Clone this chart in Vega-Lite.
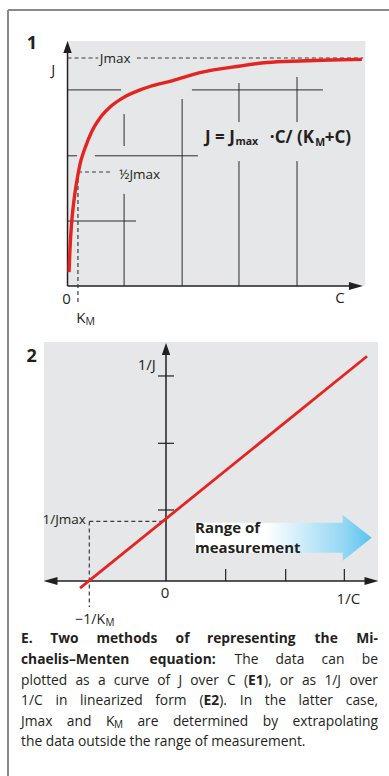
{
  "$schema": "https://vega.github.io/schema/vega-lite/v6.json",
  "padding": {"left": 7, "top": 9, "right": 0, "bottom": 0},
  "bounds": "flush",
  "spacing": 0,
  "background": "white",
  "config": {"view": {"stroke": null}, "font": "Open Sans"},
  "datasets": {
    "bgA": [{"C": 0, "J": 0, "C2": 100, "J2": 107.5}],
    "frameA": [{"C": -20, "J": -19.3, "C2": -20, "J2": 121.05}, {"C": -20, "J": 121.05, "C2": 135, "J2": 121.05}],
    "gridA": [
      {"C": 0, "J": 86.0, "C2": 18.0, "J2": 86.0},
      {"C": 41.8, "J": 86.0, "C2": 85.8, "J2": 86.0},
      {"C": 0, "J": 57.1, "C2": 3.2, "J2": 57.1},
      {"C": 9.2, "J": 57.1, "C2": 43.8, "J2": 57.1},
      {"C": 0, "J": 28.5, "C2": 23.0, "J2": 28.5},
      {"C": 19.0, "J": 61.4, "C2": 19.0, "J2": 75.4},
      {"C": 19.0, "J": 0, "C2": 19.0, "J2": 40.4},
      {"C": 38.5, "J": 0, "C2": 38.5, "J2": 82.0},
      {"C": 57.6, "J": 71.9, "C2": 57.6, "J2": 89.0},
      {"C": 57.6, "J": 0, "C2": 57.6, "J2": 54.8},
      {"C": 77.1, "J": 71.9, "C2": 77.1, "J2": 91.7},
      {"C": 77.1, "J": 0, "C2": 77.1, "J2": 54.8}
    ],
    "axesA": [{"C": 0, "J": 0, "C2": 0, "J2": 103}, {"C": 0, "J": 0, "C2": 96, "J2": 0}],
    "arrowUpA": [{"C": 0, "J": 104.8}],
    "arrowRightA": [{"C": 96.9, "J": 0}],
    "dashA": [
      {"C": 0, "J": 100, "C2": 10.3, "J2": 100},
      {"C": 23.3, "J": 100, "C2": 99.3, "J2": 100},
      {"C": 3.5, "J": 50, "C2": 14.3, "J2": 50},
      {"C": 3.5, "J": 50, "C2": 3.5, "J2": -8.3}
    ],
    "curveA": [
      {"C": 0.5, "J": 6.1}, {"C": 0.84, "J": 16.7}, {"C": 1.34, "J": 27.2}, {"C": 2.18, "J": 37.7},
      {"C": 3.36, "J": 47.8}, {"C": 4.2, "J": 53.5}, {"C": 5.88, "J": 60.5}, {"C": 8.23, "J": 68.0},
      {"C": 10.9, "J": 73.7}, {"C": 14.3, "J": 78.5}, {"C": 18.6, "J": 82.5}, {"C": 24.4, "J": 86.0},
      {"C": 27.7, "J": 87.5}, {"C": 35.4, "J": 90.1}, {"C": 44.5, "J": 93.6}, {"C": 58.0, "J": 96.5},
      {"C": 67.0, "J": 98.0}, {"C": 78.1, "J": 98.7}, {"C": 88.2, "J": 99.1}, {"C": 98.9, "J": 99.4}
    ],
    "labelsA": [
      {"C": -4.8, "J": 94.7, "label": "J"},
      {"C": -0.3, "J": -5.8, "label": "0"},
      {"C": 91.5, "J": -5.3, "label": "C"},
      {"C": 4.5, "J": -14.0, "label": "K"}
    ],
    "labelsSmallA": [
      {"C": 16.0, "J": 99.6, "label": "Jmax"},
      {"C": 24.2, "J": 48.7, "label": "½Jmax"}
    ],
    "subA": [{"C": 7.6, "J": -15.8, "label": "M"}],
    "numA": [{"C": -12.0, "J": 106.1, "label": "1"}],
    "eqLeftA": [
      {"C": 46.2, "J": 64.9, "label": "J = J"},
      {"C": 86.4, "J": 64.9, "label": "+C)"}
    ],
    "eqRightA": [
      {"C": 82.8, "J": 64.9, "label": "·C/ (K"}
    ],
    "eqSubA": [
      {"C": 56.4, "J": 63.2, "label": "max"},
      {"C": 83.2, "J": 62.7, "label": "M"}
    ],
    "bgB": [{"u": -2.057, "v": 0, "u2": 3.574, "v2": 3.567}],
    "frameB": [{"u": -2.664, "v": -0.731, "u2": -2.664, "v2": 3.746}],
    "axesB": [{"u": 0, "v": 0, "u2": 0, "v2": 3.4}, {"u": -1.9, "v": 0, "u2": 3.4, "v2": 0}],
    "ticksB": [
      {"u": -0.135, "v": 1.06, "u2": 0.135, "v2": 1.06},
      {"u": -0.135, "v": 2.055, "u2": 0.135, "v2": 2.055},
      {"u": -0.135, "v": 3.06, "u2": 0.135, "v2": 3.06},
      {"u": 1.006, "v": 0, "u2": 1.006, "v2": 0.18},
      {"u": 2.018, "v": 0, "u2": 2.018, "v2": 0.18},
      {"u": 3.007, "v": 0, "u2": 3.007, "v2": 0.18}
    ],
    "arrowUpB": [{"u": 0, "v": 3.463}],
    "arrowRightB": [{"u": 3.465, "v": 0}],
    "arrowLeftB": [{"u": -1.947, "v": 0}],
    "dashB": [
      {"u": -1.293, "v": 0.89, "u2": 0, "v2": 0.89},
      {"u": -1.293, "v": 0.89, "u2": -1.293, "v2": -0.388}
    ],
    "lineB": [{"u": -1.45, "v": -0.107}, {"u": 3.39, "v": 3.354}],
    "rangeB": [
      {"u": 0.489, "v": 0.422, "v2": 0.870},
      {"u": 2.979, "v": 0.422, "v2": 0.870},
      {"u": 2.98, "v": 0.303, "v2": 0.985},
      {"u": 3.468, "v": 0.646, "v2": 0.646}
    ],
    "labelsB": [
      {"u": -0.325, "v": 3.224, "label": "1/J"},
      {"u": -0.017, "v": -0.175, "label": "0"},
      {"u": 3.074, "v": -0.273, "label": "1/C"}
    ],
    "labelsRB": [
      {"u": -1.029, "v": -0.585, "label": "−1/K"}
    ],
    "labelsSmallRB": [
      {"u": -1.35, "v": 0.91, "label": "1/Jmax"}
    ],
    "subB": [{"u": -1.02, "v": -0.62, "label": "M"}],
    "numB": [{"u": -2.264, "v": 3.348, "label": "2"}],
    "rangeText": [
      {"u": 0.489, "v": 0.787, "label": "Range of"},
      {"u": 0.489, "v": 0.5, "label": "measurement"}
    ],
    "frameC": [{"pos": 0, "line": 0.5366, "pos2": 0, "line2": 7.6585}],
    "capBoldL": [
      {"pos": 13, "line": 1, "label": "E."},
      {"pos": 42.3, "line": 1, "label": "Two"},
      {"pos": 88.4, "line": 1, "label": "methods"},
      {"pos": 167.6, "line": 1, "label": "of"},
      {"pos": 198.9, "line": 1, "label": "representing"},
      {"pos": 306.6, "line": 1, "label": "the"},
      {"pos": 13, "line": 2, "label": "chaelis–Menten"},
      {"pos": 141.6, "line": 2, "label": "equation:"},
      {"pos": 240.1, "line": 3, "label": "E1"},
      {"pos": 195.5, "line": 4, "label": "E2"}
    ],
    "capBoldR": [
      {"pos": 370, "line": 1, "label": "Mi-"}
    ],
    "capLeft": [
      {"pos": 226.6, "line": 2, "label": "The"},
      {"pos": 267.6, "line": 2, "label": "data"},
      {"pos": 313.6, "line": 2, "label": "can"},
      {"pos": 13, "line": 3, "label": "plotted"},
      {"pos": 67.4, "line": 3, "label": "as"},
      {"pos": 89.9, "line": 3, "label": "a"},
      {"pos": 105.8, "line": 3, "label": "curve"},
      {"pos": 149.3, "line": 3, "label": "of"},
      {"pos": 170.5, "line": 3, "label": "J"},
      {"pos": 182.3, "line": 3, "label": "over"},
      {"pos": 219.1, "line": 3, "label": "C"},
      {"pos": 236.0, "line": 3, "label": "("},
      {"pos": 255.9, "line": 3, "label": "),"},
      {"pos": 271.7, "line": 3, "label": "or"},
      {"pos": 293.9, "line": 3, "label": "as"},
      {"pos": 316.4, "line": 3, "label": "1/J"},
      {"pos": 13, "line": 4, "label": "1/C"},
      {"pos": 47.4, "line": 4, "label": "in"},
      {"pos": 72.1, "line": 4, "label": "linearized"},
      {"pos": 147.2, "line": 4, "label": "form"},
      {"pos": 191.4, "line": 4, "label": "("},
      {"pos": 211.3, "line": 4, "label": ")."},
      {"pos": 231.8, "line": 4, "label": "In"},
      {"pos": 256.8, "line": 4, "label": "the"},
      {"pos": 290.6, "line": 4, "label": "latter"},
      {"pos": 13, "line": 5, "label": "Jmax"},
      {"pos": 58.8, "line": 5, "label": "and"},
      {"pos": 97.9, "line": 5, "label": "K"},
      {"pos": 129.4, "line": 5, "label": "are"},
      {"pos": 164.9, "line": 5, "label": "determined"},
      {"pos": 254.8, "line": 5, "label": "by"},
      {"pos": 13, "line": 6, "label": "the data outside the range of measurement."}
    ],
    "capRight": [
      {"pos": 370, "line": 2, "label": "be"},
      {"pos": 370, "line": 3, "label": "over"},
      {"pos": 370, "line": 4, "label": "case,"},
      {"pos": 370, "line": 5, "label": "extrapolating"}
    ],
    "capSub": [{"pos": 106.0, "line": 5.15, "label": "M"}]
  },
  "vconcat": [
    {
      "width": 381,
      "height": 320,
      "layer": [
        {
          "data": {"name": "bgA"},
          "mark": {"type": "rect", "color": "#e6e7e8"},
          "encoding": {
            "x": {"field": "C", "type": "quantitative", "scale": {"domain": [-20, 108], "nice": false, "zero": false}, "axis": null},
            "x2": {"field": "C2"},
            "y": {"field": "J", "type": "quantitative", "scale": {"domain": [-19.3, 121.05], "nice": false, "zero": false}, "axis": null},
            "y2": {"field": "J2"}
          }
        },
        {
          "data": {"name": "frameA"},
          "mark": {"type": "rule", "color": "#8a8a8a", "strokeWidth": 2},
          "encoding": {
            "x": {"field": "C", "type": "quantitative", "axis": null},
            "x2": {"field": "C2"},
            "y": {"field": "J", "type": "quantitative", "axis": null},
            "y2": {"field": "J2"}
          }
        },
        {
          "data": {"name": "gridA"},
          "mark": {"type": "rule", "color": "#2b2b2b", "strokeWidth": 1},
          "encoding": {
            "x": {"field": "C", "type": "quantitative", "axis": null},
            "x2": {"field": "C2"},
            "y": {"field": "J", "type": "quantitative", "axis": null},
            "y2": {"field": "J2"}
          }
        },
        {
          "data": {"name": "axesA"},
          "mark": {"type": "rule", "color": "#231f20", "strokeWidth": 1.5},
          "encoding": {
            "x": {"field": "C", "type": "quantitative", "axis": null},
            "x2": {"field": "C2"},
            "y": {"field": "J", "type": "quantitative", "axis": null},
            "y2": {"field": "J2"}
          }
        },
        {
          "data": {"name": "arrowUpA"},
          "mark": {"type": "point", "shape": "M0,-1L0.7,1L-0.7,1Z", "filled": true, "size": 144, "color": "#231f20", "opacity": 1},
          "encoding": {
            "x": {"field": "C", "type": "quantitative", "axis": null},
            "y": {"field": "J", "type": "quantitative", "axis": null}
          }
        },
        {
          "data": {"name": "arrowRightA"},
          "mark": {"type": "point", "shape": "M1,0L-1,-0.58L-1,0.58Z", "filled": true, "size": 196, "color": "#231f20", "opacity": 1},
          "encoding": {
            "x": {"field": "C", "type": "quantitative", "axis": null},
            "y": {"field": "J", "type": "quantitative", "axis": null}
          }
        },
        {
          "data": {"name": "dashA"},
          "mark": {"type": "rule", "color": "#3a3a3a", "strokeWidth": 1.2, "strokeDash": [4, 3]},
          "encoding": {
            "x": {"field": "C", "type": "quantitative", "axis": null},
            "x2": {"field": "C2"},
            "y": {"field": "J", "type": "quantitative", "axis": null},
            "y2": {"field": "J2"}
          }
        },
        {
          "data": {"name": "curveA"},
          "mark": {"type": "line", "color": "#e52421", "strokeWidth": 3.4, "interpolate": "monotone"},
          "encoding": {
            "x": {"field": "C", "type": "quantitative", "axis": null},
            "y": {"field": "J", "type": "quantitative", "axis": null}
          }
        },
        {
          "data": {"name": "labelsA"},
          "mark": {"type": "text", "fontSize": 15, "align": "center", "baseline": "middle", "color": "#231f20"},
          "encoding": {
            "x": {"field": "C", "type": "quantitative", "axis": null},
            "y": {"field": "J", "type": "quantitative", "axis": null},
            "text": {"field": "label"}
          }
        },
        {
          "data": {"name": "labelsSmallA"},
          "mark": {"type": "text", "fontSize": 13.5, "align": "center", "baseline": "middle", "color": "#231f20"},
          "encoding": {
            "x": {"field": "C", "type": "quantitative", "axis": null},
            "y": {"field": "J", "type": "quantitative", "axis": null},
            "text": {"field": "label"}
          }
        },
        {
          "data": {"name": "subA"},
          "mark": {"type": "text", "fontSize": 10.5, "align": "center", "baseline": "middle", "color": "#231f20"},
          "encoding": {
            "x": {"field": "C", "type": "quantitative", "axis": null},
            "y": {"field": "J", "type": "quantitative", "axis": null},
            "text": {"field": "label"}
          }
        },
        {
          "data": {"name": "numA"},
          "mark": {"type": "text", "fontSize": 18, "fontWeight": "bold", "align": "center", "baseline": "middle", "color": "#231f20"},
          "encoding": {
            "x": {"field": "C", "type": "quantitative", "axis": null},
            "y": {"field": "J", "type": "quantitative", "axis": null},
            "text": {"field": "label"}
          }
        },
        {
          "data": {"name": "eqLeftA"},
          "mark": {"type": "text", "fontSize": 17, "fontWeight": "bold", "align": "left", "baseline": "middle", "color": "#231f20"},
          "encoding": {
            "x": {"field": "C", "type": "quantitative", "axis": null},
            "y": {"field": "J", "type": "quantitative", "axis": null},
            "text": {"field": "label"}
          }
        },
        {
          "data": {"name": "eqRightA"},
          "mark": {"type": "text", "fontSize": 17, "fontWeight": "bold", "align": "right", "baseline": "middle", "color": "#231f20"},
          "encoding": {
            "x": {"field": "C", "type": "quantitative", "axis": null},
            "y": {"field": "J", "type": "quantitative", "axis": null},
            "text": {"field": "label"}
          }
        },
        {
          "data": {"name": "eqSubA"},
          "mark": {"type": "text", "fontSize": 10.5, "fontWeight": "bold", "align": "left", "baseline": "middle", "color": "#231f20"},
          "encoding": {
            "x": {"field": "C", "type": "quantitative", "axis": null},
            "y": {"field": "J", "type": "quantitative", "axis": null},
            "text": {"field": "label"}
          }
        }
      ]
    },
    {
      "width": 381,
      "height": 300,
      "layer": [
        {
          "data": {"name": "bgB"},
          "mark": {"type": "rect", "color": "#e6e7e8"},
          "encoding": {
            "x": {"field": "u", "type": "quantitative", "title": "1/C", "scale": {"domain": [-2.664, 3.76], "nice": false, "zero": false}, "axis": null},
            "x2": {"field": "u2"},
            "y": {"field": "v", "type": "quantitative", "title": "1/J", "scale": {"domain": [-0.731, 3.746], "nice": false, "zero": false}, "axis": null},
            "y2": {"field": "v2"}
          }
        },
        {
          "data": {"name": "frameB"},
          "mark": {"type": "rule", "color": "#8a8a8a", "strokeWidth": 2},
          "encoding": {
            "x": {"field": "u", "type": "quantitative", "axis": null},
            "x2": {"field": "u2"},
            "y": {"field": "v", "type": "quantitative", "axis": null},
            "y2": {"field": "v2"}
          }
        },
        {
          "data": {"name": "rangeB"},
          "mark": {
            "type": "area",
            "interpolate": "linear",
            "color": {
              "gradient": "linear", "x1": 0, "y1": 0, "x2": 1, "y2": 0,
              "stops": [
                {"offset": 0, "color": "#ffffff"},
                {"offset": 0.4, "color": "#ffffff"},
                {"offset": 0.85, "color": "#92d6f4"},
                {"offset": 1, "color": "#55c3ee"}
              ]
            }
          },
          "encoding": {
            "x": {"field": "u", "type": "quantitative", "axis": null},
            "y": {"field": "v", "type": "quantitative", "axis": null},
            "y2": {"field": "v2"}
          }
        },
        {
          "data": {"name": "axesB"},
          "mark": {"type": "rule", "color": "#231f20", "strokeWidth": 1.5},
          "encoding": {
            "x": {"field": "u", "type": "quantitative", "axis": null},
            "x2": {"field": "u2"},
            "y": {"field": "v", "type": "quantitative", "axis": null},
            "y2": {"field": "v2"}
          }
        },
        {
          "data": {"name": "ticksB"},
          "mark": {"type": "rule", "color": "#231f20", "strokeWidth": 1.2},
          "encoding": {
            "x": {"field": "u", "type": "quantitative", "axis": null},
            "x2": {"field": "u2"},
            "y": {"field": "v", "type": "quantitative", "axis": null},
            "y2": {"field": "v2"}
          }
        },
        {
          "data": {"name": "arrowUpB"},
          "mark": {"type": "point", "shape": "M0,-1L0.7,1L-0.7,1Z", "filled": true, "size": 144, "color": "#231f20", "opacity": 1},
          "encoding": {
            "x": {"field": "u", "type": "quantitative", "axis": null},
            "y": {"field": "v", "type": "quantitative", "axis": null}
          }
        },
        {
          "data": {"name": "arrowRightB"},
          "mark": {"type": "point", "shape": "M1,0L-1,-0.58L-1,0.58Z", "filled": true, "size": 196, "color": "#231f20", "opacity": 1},
          "encoding": {
            "x": {"field": "u", "type": "quantitative", "axis": null},
            "y": {"field": "v", "type": "quantitative", "axis": null}
          }
        },
        {
          "data": {"name": "arrowLeftB"},
          "mark": {"type": "point", "shape": "M-1,0L1,-0.58L1,0.58Z", "filled": true, "size": 196, "color": "#231f20", "opacity": 1},
          "encoding": {
            "x": {"field": "u", "type": "quantitative", "axis": null},
            "y": {"field": "v", "type": "quantitative", "axis": null}
          }
        },
        {
          "data": {"name": "dashB"},
          "mark": {"type": "rule", "color": "#3a3a3a", "strokeWidth": 1.2, "strokeDash": [4, 3]},
          "encoding": {
            "x": {"field": "u", "type": "quantitative", "axis": null},
            "x2": {"field": "u2"},
            "y": {"field": "v", "type": "quantitative", "axis": null},
            "y2": {"field": "v2"}
          }
        },
        {
          "data": {"name": "lineB"},
          "mark": {"type": "line", "color": "#e52421", "strokeWidth": 2.8},
          "encoding": {
            "x": {"field": "u", "type": "quantitative", "axis": null},
            "y": {"field": "v", "type": "quantitative", "axis": null}
          }
        },
        {
          "data": {"name": "labelsB"},
          "mark": {"type": "text", "fontSize": 15, "align": "center", "baseline": "middle", "color": "#231f20"},
          "encoding": {
            "x": {"field": "u", "type": "quantitative", "axis": null},
            "y": {"field": "v", "type": "quantitative", "axis": null},
            "text": {"field": "label"}
          }
        },
        {
          "data": {"name": "labelsRB"},
          "mark": {"type": "text", "fontSize": 14, "align": "right", "baseline": "middle", "color": "#231f20"},
          "encoding": {
            "x": {"field": "u", "type": "quantitative", "axis": null},
            "y": {"field": "v", "type": "quantitative", "axis": null},
            "text": {"field": "label"}
          }
        },
        {
          "data": {"name": "labelsSmallRB"},
          "mark": {"type": "text", "fontSize": 13.5, "align": "right", "baseline": "middle", "color": "#231f20"},
          "encoding": {
            "x": {"field": "u", "type": "quantitative", "axis": null},
            "y": {"field": "v", "type": "quantitative", "axis": null},
            "text": {"field": "label"}
          }
        },
        {
          "data": {"name": "subB"},
          "mark": {"type": "text", "fontSize": 10, "align": "left", "baseline": "middle", "color": "#231f20"},
          "encoding": {
            "x": {"field": "u", "type": "quantitative", "axis": null},
            "y": {"field": "v", "type": "quantitative", "axis": null},
            "text": {"field": "label"}
          }
        },
        {
          "data": {"name": "numB"},
          "mark": {"type": "text", "fontSize": 18, "fontWeight": "bold", "align": "center", "baseline": "middle", "color": "#231f20"},
          "encoding": {
            "x": {"field": "u", "type": "quantitative", "axis": null},
            "y": {"field": "v", "type": "quantitative", "axis": null},
            "text": {"field": "label"}
          }
        },
        {
          "data": {"name": "rangeText"},
          "mark": {"type": "text", "fontSize": 15, "fontWeight": "bold", "align": "left", "baseline": "middle", "color": "#231f20"},
          "encoding": {
            "x": {"field": "u", "type": "quantitative", "axis": null},
            "y": {"field": "v", "type": "quantitative", "axis": null},
            "text": {"field": "label"}
          }
        }
      ]
    },
    {
      "width": 381,
      "height": 146,
      "layer": [
        {
          "data": {"name": "frameC"},
          "mark": {"type": "rule", "color": "#8a8a8a", "strokeWidth": 2},
          "encoding": {
            "x": {"field": "pos", "type": "quantitative", "scale": {"domain": [0, 381], "nice": false, "zero": false}, "axis": null},
            "x2": {"field": "pos2"},
            "y": {"field": "line", "type": "quantitative", "scale": {"domain": [0.5366, 7.6585], "nice": false, "zero": false, "reverse": true}, "axis": null},
            "y2": {"field": "line2"}
          }
        },
        {
          "data": {"name": "capBoldL"},
          "mark": {"type": "text", "fontSize": 13.8, "fontWeight": "bold", "align": "left", "baseline": "middle", "color": "#231f20"},
          "encoding": {
            "x": {"field": "pos", "type": "quantitative", "axis": null},
            "y": {"field": "line", "type": "quantitative", "axis": null},
            "text": {"field": "label"}
          }
        },
        {
          "data": {"name": "capBoldR"},
          "mark": {"type": "text", "fontSize": 13.8, "fontWeight": "bold", "align": "right", "baseline": "middle", "color": "#231f20"},
          "encoding": {
            "x": {"field": "pos", "type": "quantitative", "axis": null},
            "y": {"field": "line", "type": "quantitative", "axis": null},
            "text": {"field": "label"}
          }
        },
        {
          "data": {"name": "capLeft"},
          "mark": {"type": "text", "fontSize": 13.8, "align": "left", "baseline": "middle", "color": "#231f20"},
          "encoding": {
            "x": {"field": "pos", "type": "quantitative", "axis": null},
            "y": {"field": "line", "type": "quantitative", "axis": null},
            "text": {"field": "label"}
          }
        },
        {
          "data": {"name": "capRight"},
          "mark": {"type": "text", "fontSize": 13.8, "align": "right", "baseline": "middle", "color": "#231f20"},
          "encoding": {
            "x": {"field": "pos", "type": "quantitative", "axis": null},
            "y": {"field": "line", "type": "quantitative", "axis": null},
            "text": {"field": "label"}
          }
        },
        {
          "data": {"name": "capSub"},
          "mark": {"type": "text", "fontSize": 10, "align": "left", "baseline": "middle", "color": "#231f20"},
          "encoding": {
            "x": {"field": "pos", "type": "quantitative", "axis": null},
            "y": {"field": "line", "type": "quantitative", "axis": null},
            "text": {"field": "label"}
          }
        }
      ]
    }
  ]
}
